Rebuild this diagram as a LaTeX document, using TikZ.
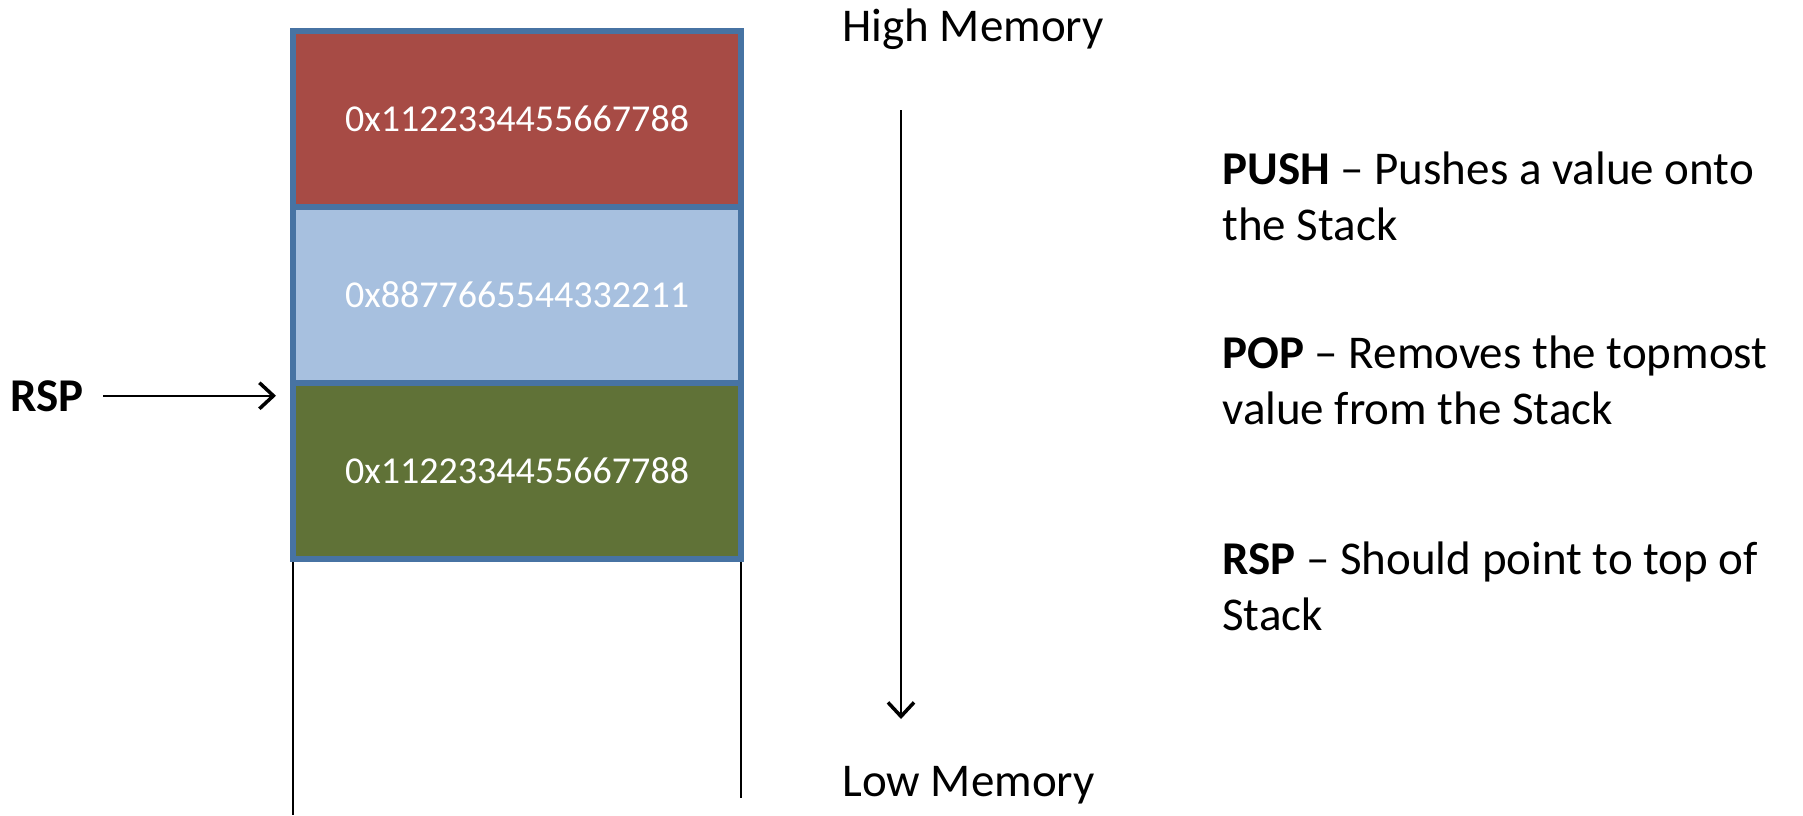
\documentclass[tikz,border=0pt]{standalone}
\usepackage{fontspec}
\setmainfont{Carlito}
\usetikzlibrary{arrows.meta}
\definecolor{cellred}{RGB}{167,75,69}
\definecolor{cellblue}{RGB}{167,192,223}
\definecolor{cellgreen}{RGB}{96,114,55}
\definecolor{cellborder}{RGB}{71,115,163}
\begin{document}
\begin{tikzpicture}[x=0.5pt,y=-0.5pt,
  cell/.style={draw=cellborder, line width=2.8pt, minimum width=224pt, minimum height=88pt, inner sep=0pt, text=white, font=\fontsize{19}{23}\selectfont},
  lbl/.style={inner sep=0pt, font=\fontsize{23.5}{28}\selectfont, align=left},
  arr/.style={-{Straight Barb[length=7pt,width=13pt,line width=0pt 1.6]}, line width=1.1pt}]
\useasboundingbox (0,0) rectangle (1803,815);
\coordinate (lt) at (293,191);
\coordinate (lb) at (293,815);
\coordinate (rt) at (741,191);
\coordinate (rb) at (741,798);
\draw[line width=1pt] (lt) -- (lb);
\draw[line width=1pt] (rt) -- (rb);
\node[cell, fill=cellred] (c1) at (517,119) {\raisebox{-1.5pt}{0x1122334455667788}};
\node[cell, fill=cellblue] (c2) at (517,295) {\raisebox{-1.5pt}{0x8877665544332211}};
\node[cell, fill=cellgreen] (c3) at (517,471) {\raisebox{-1.5pt}{0x1122334455667788}};
\node[lbl, anchor=base west] (hi) at (842,41) {High Memory};
\node[lbl, anchor=base west] (lo) at (842,796) {Low Memory};
\coordinate (mtop) at (901,110);
\coordinate (mbot) at (901,719);
\draw[arr] (mtop) -- (mbot);
\node[lbl, anchor=base west] (rsp) at (10,411) {\textbf{RSP}};
\coordinate (rsptip) at (276,399);
\draw[arr] ([xshift=9.5pt]rsp.east) -- (rsptip |- rsp.east);
\node[lbl, anchor=base west] (push) at (1222,240) {\textbf{PUSH} – Pushes a value onto\\the Stack};
\node[lbl, anchor=base west] (pop) at (1222,424) {\textbf{POP} – Removes the topmost\\value from the Stack};
\node[lbl, anchor=base west] (rspd) at (1222,630) {\textbf{RSP} – Should point to top of\\Stack};
\end{tikzpicture}
\end{document}
